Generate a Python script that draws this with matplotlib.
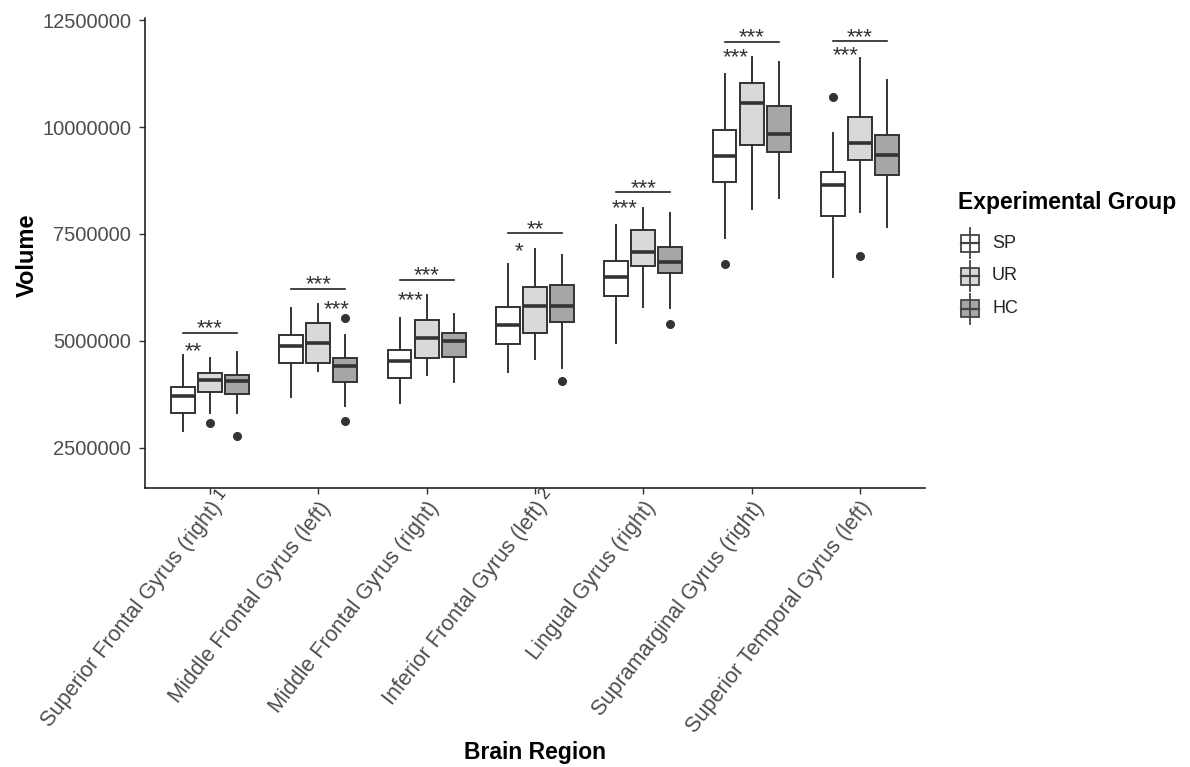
import matplotlib
matplotlib.use("Agg")
import matplotlib.pyplot as plt
from matplotlib.patches import Rectangle

plt.rcParams['font.family'] = ['Liberation Sans', 'DejaVu Sans']

regions = ["Superior Frontal Gyrus (right)", "Middle Frontal Gyrus (left)",
           "Middle Frontal Gyrus (right)", "Inferior Frontal Gyrus (left)",
           "Lingual Gyrus (right)", "Supramarginal Gyrus (right)",
           "Superior Temporal Gyrus (left)"]
groups = ["SP", "UR", "HC"]
fills = ["#ffffff", "#d9d9d9", "#a6a6a6"]

# (whisker low, q1, median, q3, whisker high) per region
sp_stats = [
    (2.90e6, 3.31e6, 3.72e6, 3.93e6, 4.67e6),
    (3.68e6, 4.49e6, 4.89e6, 5.15e6, 5.76e6),
    (3.56e6, 4.14e6, 4.54e6, 4.79e6, 5.53e6),
    (4.27e6, 4.94e6, 5.37e6, 5.80e6, 6.80e6),
    (4.96e6, 6.06e6, 6.50e6, 6.87e6, 7.70e6),
    (7.40e6, 8.71e6, 9.32e6, 9.93e6, 11.24e6),
    (6.50e6, 7.92e6, 8.65e6, 8.96e6, 9.85e6),
]
ur_stats = [
    (3.31e6, 3.80e6, 4.09e6, 4.25e6, 4.60e6),
    (4.30e6, 4.49e6, 4.96e6, 5.41e6, 5.87e6),
    (4.21e6, 4.60e6, 5.06e6, 5.49e6, 6.07e6),
    (4.58e6, 5.18e6, 5.82e6, 6.27e6, 7.15e6),
    (5.79e6, 6.75e6, 7.09e6, 7.59e6, 8.10e6),
    (8.08e6, 9.58e6, 10.57e6, 11.04e6, 11.64e6),
    (8.02e6, 9.23e6, 9.63e6, 10.23e6, 11.62e6),
]
hc_stats = [
    (3.31e6, 3.75e6, 4.07e6, 4.21e6, 4.74e6),
    (3.48e6, 4.05e6, 4.42e6, 4.60e6, 5.13e6),
    (4.03e6, 4.62e6, 4.99e6, 5.18e6, 5.63e6),
    (4.38e6, 5.45e6, 5.82e6, 6.31e6, 7.01e6),
    (5.76e6, 6.58e6, 6.85e6, 7.20e6, 7.98e6),
    (8.33e6, 9.41e6, 9.84e6, 10.50e6, 11.51e6),
    (7.67e6, 8.89e6, 9.35e6, 9.81e6, 11.10e6),
]
sp_out = [[], [], [], [], [], [6.79e6], [10.69e6]]
ur_out = [[3.08e6], [], [], [], [], [], [6.99e6]]
hc_out = [[2.77e6], [5.53e6, 3.12e6], [], [4.07e6], [5.39e6], [], []]

# significance annotations
bracket_labels = ["***", "***", "***", "**", "***", "***", "***"]
bracket_y = [5.19e6, 6.22e6, 6.43e6, 7.52e6, 8.48e6, 11.99e6, 12.0e6]
pair_labels = ["**", "***", "***", "*", "***", "***", "***"]
pair_y = [4.87e6, 5.84e6, 6.05e6, 7.20e6, 8.20e6, 11.73e6, 11.78e6]
pair_dx = [-0.15, 0.17, -0.15, -0.15, -0.17, -0.15, -0.13]
footnotes = {0: "1", 3: "2"}

yticks = [2500000, 5000000, 7500000, 10000000, 12500000]

edge = "#333333"
fig = plt.figure(figsize=(11.9, 7.67), dpi=100)
ax = fig.add_axes([0.1218, 0.3638, 0.6555, 0.6127])

offsets = [-0.25, 0.0, 0.25]
all_stats = [sp_stats, ur_stats, hc_stats]
all_out = [sp_out, ur_out, hc_out]
for g in range(3):
    stats = []
    for i, s in enumerate(all_stats[g]):
        stats.append(dict(whislo=s[0], q1=s[1], med=s[2], q3=s[3], whishi=s[4],
                          fliers=all_out[g][i]))
    pos = [i + 1 + offsets[g] for i in range(len(regions))]
    ax.bxp(stats, positions=pos, widths=0.22, patch_artist=True, showcaps=False,
           boxprops=dict(facecolor=fills[g], edgecolor=edge, linewidth=1.4),
           medianprops=dict(color=edge, linewidth=2.6, solid_capstyle='butt'),
           whiskerprops=dict(color=edge, linewidth=1.4),
           flierprops=dict(marker='o', markerfacecolor=edge, markeredgecolor=edge,
                           markersize=5.5))

for i in range(len(regions)):
    x = i + 1
    ax.plot([x - 0.25, x + 0.25], [bracket_y[i], bracket_y[i]], color="#222222", lw=1.2)
    ax.annotate(bracket_labels[i], (x, bracket_y[i]), xytext=(0, -1.3),
                textcoords='offset points', ha='center', va='baseline',
                fontsize=16, color="#333333")
    ax.annotate(pair_labels[i], (x + pair_dx[i], pair_y[i]), xytext=(0, -7.5),
                textcoords='offset points', ha='center', va='baseline',
                fontsize=16, color="#333333")

ax.set_xlim(0.4, 7.6)
ax.set_ylim(1.565e6, 12.547e6)
ax.set_xticks(range(1, len(regions) + 1))
ax.set_xticklabels(regions, rotation=52, ha='right', va='top', rotation_mode='anchor',
                   fontsize=15.5, color="#4d4d4d")
ax.set_yticks(yticks)
ax.set_yticklabels([str(v) for v in yticks], fontsize=14.5, color="#4d4d4d")
ax.tick_params(axis='both', length=4, width=1, color=edge, pad=3)
ax.tick_params(axis='y', pad=6)
for side in ["top", "right"]:
    ax.spines[side].set_visible(False)
for side in ["left", "bottom"]:
    ax.spines[side].set_linewidth(1.1)
    ax.spines[side].set_color("#111111")

for i, lab in footnotes.items():
    ax.annotate(lab, (i + 1, 0), xycoords=('data', 'axes fraction'), xytext=(7, -4),
                textcoords='offset points', ha='center', va='center', fontsize=12,
                rotation=52, color="#333333")

fig.text(0.45, 0.019, "Brain Region", ha='center', va='center', fontsize=16.5,
         fontweight='bold')
fig.text(0.023, 0.6675, "Volume", ha='center', va='center', fontsize=17,
         fontweight='bold', rotation=90)

# legend drawn in its own pixel-scaled axes
lax = fig.add_axes([940 / 1190, 1 - 330 / 767, 250 / 1190, 150 / 767])
lax.set_xlim(0, 250)
lax.set_ylim(150, 0)
lax.axis('off')
lax.text(18, 22, "Experimental Group", fontsize=16.5, fontweight='bold', va='center')
for g in range(3):
    cy = 63 + g * 33
    lax.plot([30, 30], [cy - 15, cy + 15], color="#444444", lw=1.3)
    lax.add_patch(Rectangle((21, cy - 8.5), 18, 17, facecolor=fills[g],
                            edgecolor="#444444", lw=1.3))
    lax.plot([21, 39], [cy, cy], color="#444444", lw=1.6)
    lax.text(52, cy, groups[g], fontsize=13, color="#222222", va='center')

fig.savefig("out.png", dpi=100)
